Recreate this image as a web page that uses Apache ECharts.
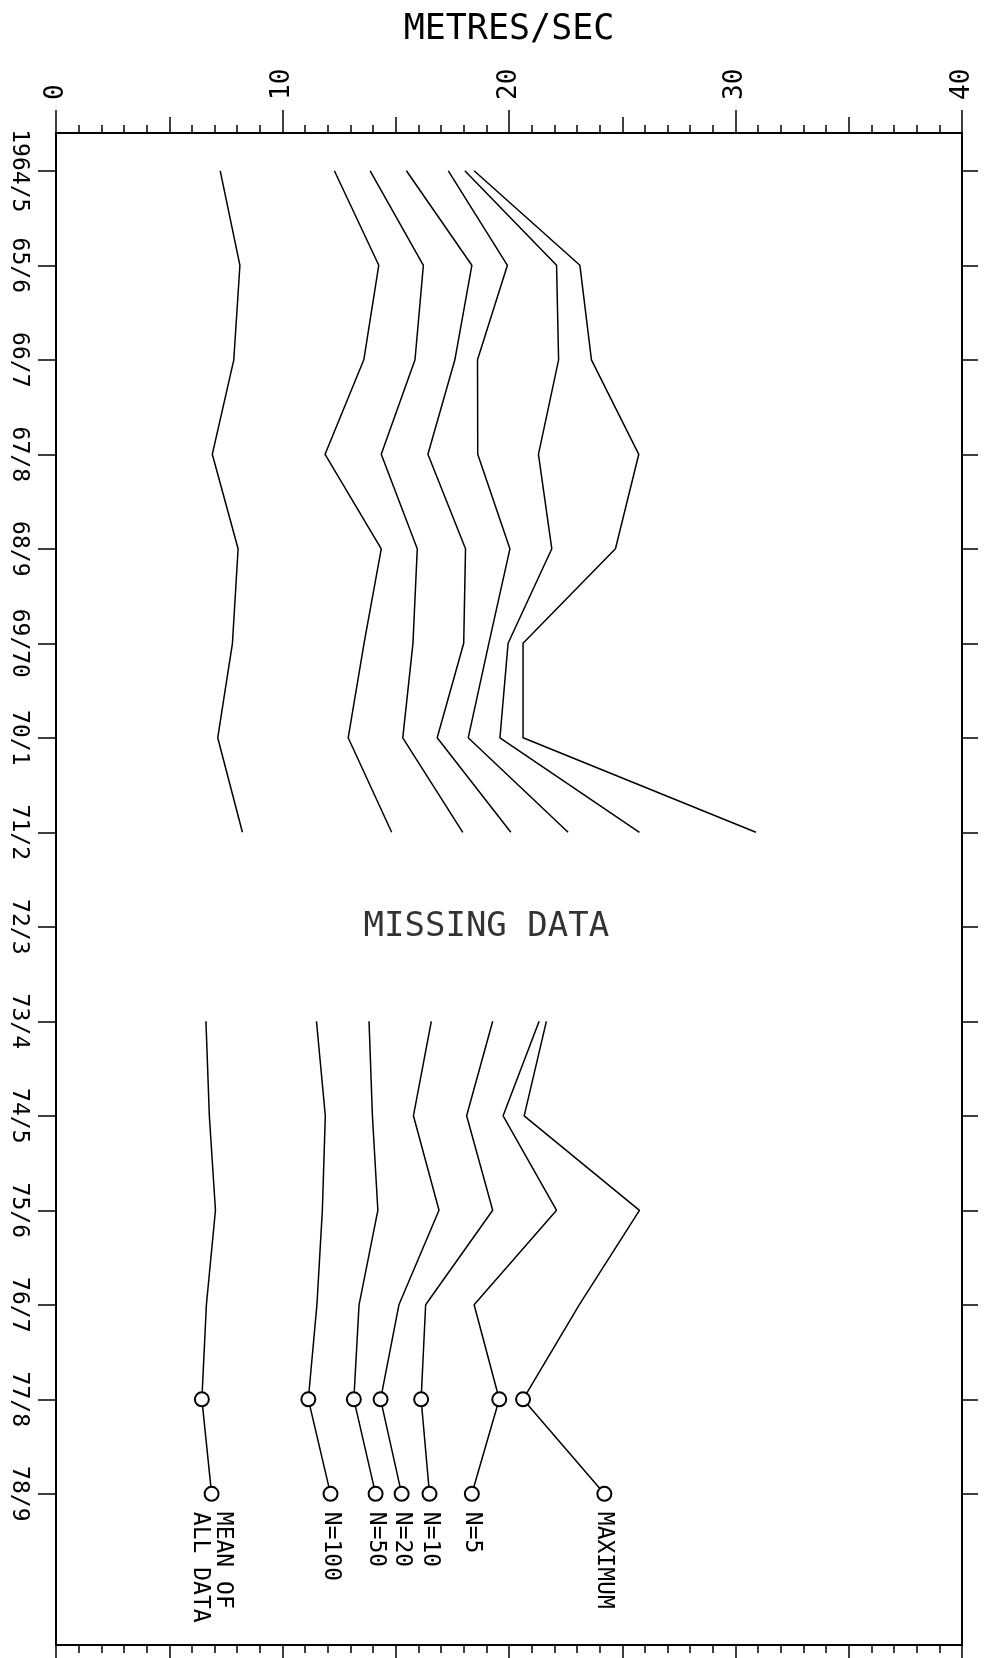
<!DOCTYPE html>
<html>
<head>
<meta charset="utf-8">
<script src="https://cdn.jsdelivr.net/npm/echarts@6/dist/echarts.min.js"></script>
<style>
  html, body { margin: 0; padding: 0; background: #fff; }
  #chart { width: 986px; height: 1658px; }
</style>
</head>
<body>
<div id="chart"></div>
<script>
// Wind speed (metres/sec) per season, one array per statistic.
const seasons = ['1964/5', '65/6', '66/7', '67/8', '68/9', '69/70', '70/1', '71/2',
                 '72/3', '73/4', '74/5', '75/6', '76/7', '77/8', '78/9'];
const meanAll = [7.25, 8.12, 7.85, 6.9, 8.04, 7.79, 7.14, 8.23, null, 6.62, 6.77, 7.04, 6.64, 6.44, 6.87];
const n100    = [12.29, 14.25, 13.59, 11.88, 14.36, 13.6, 12.9, 14.82, null, 11.5, 11.89, 11.76, 11.52, 11.14, 12.12];
const n50     = [13.87, 16.22, 15.85, 14.36, 15.95, 15.76, 15.31, 17.96, null, 13.82, 13.97, 14.21, 13.38, 13.15, 14.11];
const n20     = [15.47, 18.36, 17.61, 16.42, 18.08, 18.0, 16.83, 20.08, null, 16.57, 15.78, 16.91, 15.14, 14.33, 15.26];
const n10     = [17.32, 19.93, 18.61, 18.62, 20.04, 19.11, 18.2, 22.61, null, 19.28, 18.13, 19.28, 16.32, 16.12, 16.49];
const n5      = [18.05, 22.1, 22.19, 21.3, 21.89, 19.96, 19.6, 25.76, null, 21.33, 19.74, 22.1, 18.46, 19.57, 18.36];
const maximum = [18.46, 23.13, 23.64, 25.73, 24.7, 20.62, 20.62, 30.9, null, 21.65, 20.67, 25.76, 23.1, 20.62, 24.21];

const seriesNames = ['MEAN OF\nALL DATA', 'N=100', 'N=50', 'N=20', 'N=10', 'N=5', 'MAXIMUM'];
const seriesValues = [meanAll, n100, n50, n20, n10, n5, maximum];
const markedSeasons = ['77/8', '78/9'];

const axisTitle = 'METRES/SEC';
const gapNote = { text: 'MISSING DATA', value: 19, season: '72/3' };

const INK = '#000';
const FONT = '"DejaVu Sans Mono", "Liberation Mono", monospace';
const seasonIdx = seasons.map((_, i) => i);
const lastIdx = seasons.length - 1;

const xBase = {
  type: 'value', min: 0, max: 40,
  splitLine: { show: false },
  axisLine: { show: true, onZero: false, lineStyle: { color: INK, width: 2 } }
};
const yBase = {
  type: 'value', inverse: true, min: -0.4, max: 15.6,
  splitLine: { show: false },
  axisLine: { show: true, onZero: false, lineStyle: { color: INK, width: 2 } }
};
const tickLine = { color: INK, width: 1.5 };

const lineSeries = seriesNames.map((name, s) => ({
  type: 'line',
  name: name,
  xAxisIndex: 0,
  yAxisIndex: 0,
  data: seriesValues[s].map((v, i) => {
    const item = {
      value: [v == null ? '-' : v, i],
      symbol: markedSeasons.includes(seasons[i]) ? 'emptyCircle' : 'none'
    };
    if (i === lastIdx) item.label = { show: true };
    return item;
  }),
  symbolSize: 14,
  connectNulls: false,
  lineStyle: { color: INK, width: 1.5 },
  itemStyle: { color: INK, borderColor: INK, borderWidth: 1.5 },
  label: {
    show: false,
    position: 'bottom',
    distance: 10,
    rotate: -90,
    align: 'left',
    verticalAlign: 'middle',
    formatter: p => p.seriesName,
    color: INK,
    fontFamily: FONT,
    fontSize: 23,
    lineHeight: 23
  },
  emphasis: { disabled: true },
  silent: true
}));

const noteSeries = {
  type: 'scatter',
  xAxisIndex: 0,
  yAxisIndex: 0,
  data: [[gapNote.value, seasons.indexOf(gapNote.season)]],
  symbolSize: 1,
  itemStyle: { color: 'rgba(0,0,0,0)' },
  label: {
    show: true,
    position: 'inside',
    formatter: gapNote.text,
    color: INK,
    fontFamily: FONT,
    fontSize: 34
  },
  emphasis: { disabled: true },
  silent: true
};

const chart = echarts.init(document.getElementById('chart'), null, { renderer: 'canvas' });
chart.setOption({
  animation: false,
  backgroundColor: '#fff',
  grid: { left: 56, right: 24, top: 133, bottom: 13, containLabel: false, outerBoundsMode: 'none' },
  xAxis: [
    {
      ...xBase, position: 'top', interval: 10,
      axisTick: { show: true, length: 23, lineStyle: tickLine },
      minorTick: { show: true, splitNumber: 10, length: 8, lineStyle: tickLine },
      axisLabel: { show: true, rotate: -90, margin: 33, color: INK, fontFamily: FONT, fontSize: 26 },
      name: axisTitle, nameLocation: 'middle', nameGap: 86,
      nameTextStyle: { color: INK, fontFamily: FONT, fontSize: 35 }
    },
    {
      ...xBase, position: 'top', interval: 5,
      axisLine: { show: false, onZero: false },
      axisTick: { show: true, length: 16, lineStyle: tickLine },
      axisLabel: { show: false }
    },
    {
      ...xBase, position: 'bottom', interval: 10,
      axisTick: { show: true, length: 23, lineStyle: tickLine },
      minorTick: { show: true, splitNumber: 10, length: 8, lineStyle: tickLine },
      axisLabel: { show: false }
    },
    {
      ...xBase, position: 'bottom', interval: 5,
      axisLine: { show: false, onZero: false },
      axisTick: { show: true, length: 16, lineStyle: tickLine },
      axisLabel: { show: false }
    }
  ],
  yAxis: [
    {
      ...yBase, position: 'left',
      axisTick: { show: true, customValues: seasonIdx, length: 18, lineStyle: tickLine },
      axisLabel: {
        show: true, customValues: seasonIdx, rotate: -90, margin: 26,
        formatter: v => seasons[Math.round(v)] || '',
        color: INK, fontFamily: FONT, fontSize: 23
      }
    },
    {
      ...yBase, position: 'right',
      axisTick: { show: true, customValues: seasonIdx, length: 16, lineStyle: tickLine },
      axisLabel: { show: false }
    }
  ],
  series: [...lineSeries, noteSeries]
});
</script>
</body>
</html>
